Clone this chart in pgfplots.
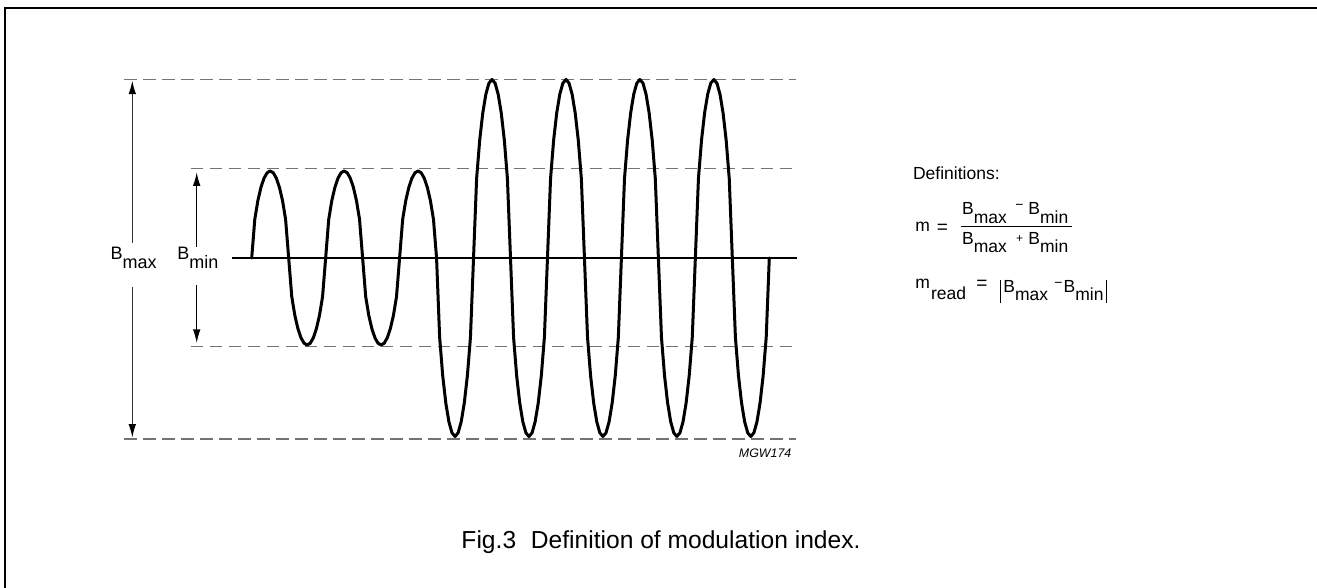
\documentclass[border=0pt]{standalone}
\usepackage{fontspec}
\setmainfont{Liberation Sans}
\usepackage{pgfplots}
\pgfplotsset{compat=1.18}
\usetikzlibrary{arrows.meta}
\newcommand\fs[1]{\fontsize{#1}{#1}\selectfont}
\newcommand\sub[1]{\raisebox{-4.5pt}{#1}}
\newcommand\subb[1]{\raisebox{-4pt}{#1}}
\begin{document}
\begin{tikzpicture}
\begin{axis}[name=base, at={(0,0)}, anchor=south west, scale only axis,
  width=658.5pt, height=294pt, xmin=0, xmax=1317, ymin=0, ymax=588,
  y dir=reverse, hide axis, clip=false]
% frame
\addplot[black, line width=1pt] coordinates {(5.3,588) (5.3,8.3) (1317,8.3)};
% dashed reference levels
\addplot[black!55, line width=0.75pt, dash pattern=on 6.3pt off 3.2pt] coordinates {(124,79.3) (796,79.3)};
\addplot[black!55, line width=0.75pt, dash pattern=on 6.3pt off 3.2pt] coordinates {(124,439) (796,439)};
\addplot[black!55, line width=0.75pt, dash pattern=on 6.3pt off 3.2pt] coordinates {(190.7,168.7) (796,168.7)};
\addplot[black!55, line width=0.75pt, dash pattern=on 6.3pt off 3.2pt] coordinates {(190.7,346.7) (796,346.7)};
% centre line
\addplot[black, line width=0.6pt] coordinates {(232.3,258) (796.7,258)};
% arrows
\addplot[black!80, line width=0.6pt, arrows={Latex[length=6.8pt,width=3.8pt,black]-}] coordinates {(132.3,80.6) (132.3,243)};
\addplot[black!80, line width=0.6pt, arrows={-Latex[length=6.8pt,width=3.8pt,black]}] coordinates {(132.3,287) (132.3,437.6)};
\addplot[black, line width=0.6pt, arrows={Latex[length=6.8pt,width=3.8pt]-}] coordinates {(196.7,172.3) (196.7,246.7)};
\addplot[black, line width=0.6pt, arrows={-Latex[length=6.8pt,width=3.8pt]}] coordinates {(196.7,285) (196.7,343)};
% labels
\node[anchor=base, inner sep=0pt, font=\fs{9pt}] at (axis cs:133.7,260) {B\sub{max}};
\node[anchor=base, inner sep=0pt, font=\fs{9pt}] at (axis cs:197.8,260) {B\sub{min}};
% definitions
\node[anchor=base west, inner sep=0pt, font=\fs{8.75pt}] at (axis cs:912.7,179.5) {Definitions:};
\node[anchor=base west, inner sep=0pt, font=\fs{8.75pt}] at (axis cs:915,231.7) {m};
\node[anchor=center, inner sep=0pt, font=\fs{9.5pt}] at (axis cs:942.3,229.3) {=};
\addplot[black, line width=0.55pt] coordinates {(960.7,226.7) (1071.7,226.7)};
\node[anchor=base west, inner sep=0pt, font=\fs{8.75pt}] at (axis cs:961.7,215) {B\sub{max}};
\node[anchor=center, inner sep=0pt, font=\fs{7pt}] at (axis cs:1019.5,207) {−};
\node[anchor=base west, inner sep=0pt, font=\fs{8.75pt}] at (axis cs:1028,215) {B\sub{min}};
\node[anchor=base west, inner sep=0pt, font=\fs{8.75pt}] at (axis cs:961.7,245) {B\subb{max}};
\node[anchor=center, inner sep=0pt, font=\fs{6pt}] at (axis cs:1019.5,239) {+};
\node[anchor=base west, inner sep=0pt, font=\fs{8.75pt}] at (axis cs:1028,245) {B\subb{min}};
% m_read
\node[anchor=base west, inner sep=0pt, font=\fs{8.75pt}] at (axis cs:915,288.3) {m};
\node[anchor=base west, inner sep=0pt, font=\fs{8.75pt}] at (axis cs:930.7,299.3) {read};
\node[anchor=center, inner sep=0pt, font=\fs{9.5pt}] at (axis cs:982,285) {=};
\addplot[black, line width=0.5pt] coordinates {(1000,280) (1000,303)};
\node[anchor=base west, inner sep=0pt, font=\fs{8.75pt}] at (axis cs:1003,292.7) {B\subb{max}};
\node[anchor=center, inner sep=0pt, font=\fs{7pt}] at (axis cs:1058.5,285) {−};
\node[anchor=base west, inner sep=0pt, font=\fs{8.75pt}] at (axis cs:1063.3,292.7) {B\subb{min}};
\addplot[black, line width=0.5pt] coordinates {(1106,280) (1106,303)};
% code and caption
\node[anchor=base east, inner sep=0pt, font=\fs{6.2pt}\itshape] at (axis cs:791.7,457) {MGW174};
\node[anchor=base, inner sep=0pt, font=\fs{12.3pt}] at (axis cs:661,548) {Fig.3\hspace{0.6em}Definition of modulation index.};
\end{axis}
\begin{axis}[at={(0,0)}, anchor=south west, scale only axis,
  width=658.5pt, height=294pt, xmin=-81.70, xmax=345.78, ymin=0, ymax=588,
  y dir=reverse, hide axis, clip=false]
\addplot[black, line width=1.5pt, line join=round, line cap=round] coordinates {
(0,258) (1,219.34) (2,200.60) (3,187.33) (4,178.19) (5,172.79) (6,171) (7,172.79) (8,178.19) (9,187.33) (10,200.60) (11,219.34)
(12,258) (13,296.66) (14,315.40) (15,328.67) (16,337.81) (17,343.21) (18,345) (19,343.21) (20,337.81) (21,328.67) (22,315.40) (23,296.66)
(24,258) (25,219.34) (26,200.60) (27,187.33) (28,178.19) (29,172.79) (30,171) (31,172.79) (32,178.19) (33,187.33) (34,200.60) (35,219.34)
(36,258) (37,296.66) (38,315.40) (39,328.67) (40,337.81) (41,343.21) (42,345) (43,343.21) (44,337.81) (45,328.67) (46,315.40) (47,296.66)
(48,258) (49,219.34) (50,200.60) (51,187.33) (52,178.19) (53,172.79) (54,171) (55,172.79) (56,178.19) (57,187.33) (58,200.60) (59,219.34) (60,258)
(61,337.33) (62,375.77) (63,403.00) (64,421.74) (65,432.82) (66,436.5) (67,432.82) (68,421.74) (69,403.00) (70,375.77) (71,337.33) (72,258)
(73,178.67) (74,140.23) (75,113.00) (76,94.26) (77,83.18) (78,79.5) (79,83.18) (80,94.26) (81,113.00) (82,140.23) (83,178.67) (84,258)
(85,337.33) (86,375.77) (87,403.00) (88,421.74) (89,432.82) (90,436.5) (91,432.82) (92,421.74) (93,403.00) (94,375.77) (95,337.33) (96,258)
(97,178.67) (98,140.23) (99,113.00) (100,94.26) (101,83.18) (102,79.5) (103,83.18) (104,94.26) (105,113.00) (106,140.23) (107,178.67) (108,258)
(109,337.33) (110,375.77) (111,403.00) (112,421.74) (113,432.82) (114,436.5) (115,432.82) (116,421.74) (117,403.00) (118,375.77) (119,337.33) (120,258)
(121,178.67) (122,140.23) (123,113.00) (124,94.26) (125,83.18) (126,79.5) (127,83.18) (128,94.26) (129,113.00) (130,140.23) (131,178.67) (132,258)
(133,337.33) (134,375.77) (135,403.00) (136,421.74) (137,432.82) (138,436.5) (139,432.82) (140,421.74) (141,403.00) (142,375.77) (143,337.33) (144,258)
(145,178.67) (146,140.23) (147,113.00) (148,94.26) (149,83.18) (150,79.5) (151,83.18) (152,94.26) (153,113.00) (154,140.23) (155,178.67) (156,258)
(157,337.33) (158,375.77) (159,403.00) (160,421.74) (161,432.82) (162,436.5) (163,432.82) (164,421.74) (165,403.00) (166,375.77) (167,337.33) (168,258)
};
\end{axis}
\pgfresetboundingbox
\path[use as bounding box] (base.south west) rectangle (base.north east);
\end{tikzpicture}
\end{document}
